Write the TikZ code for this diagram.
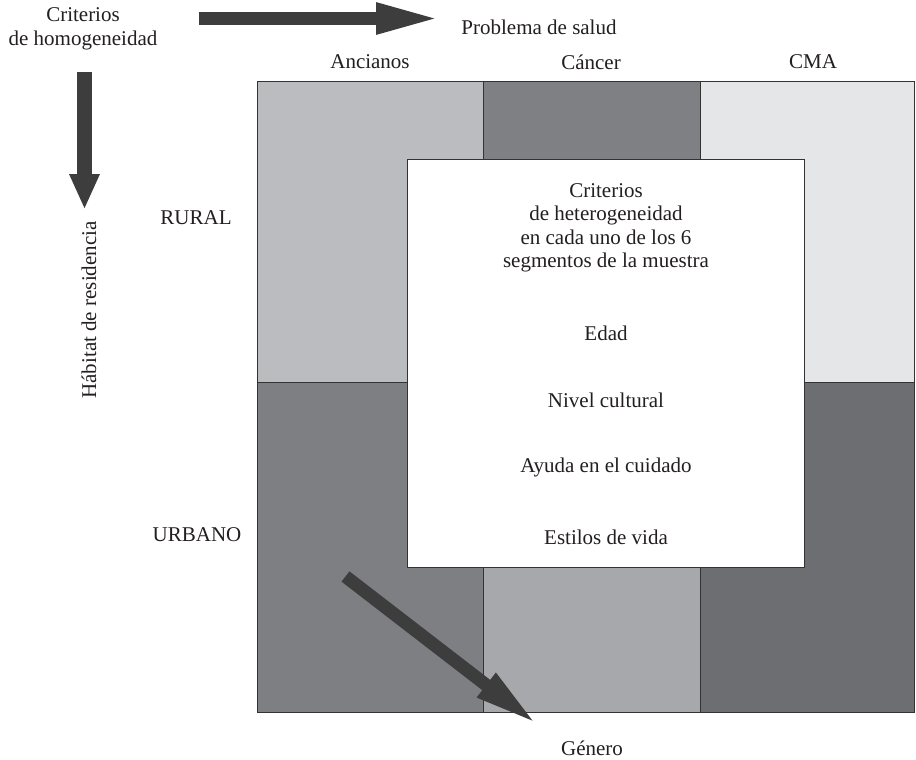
\documentclass[tikz,border=0pt]{standalone}
\usepackage{fontspec}
\setmainfont{Liberation Serif}
\usetikzlibrary{arrows.meta}
\definecolor{cA}{HTML}{BBBCBF}
\definecolor{cB}{HTML}{7F8084}
\definecolor{cC}{HTML}{E5E6E8}
\definecolor{cD}{HTML}{7E7F83}
\definecolor{cE}{HTML}{A7A8AB}
\definecolor{cF}{HTML}{6D6E72}
\definecolor{arr}{HTML}{3D3D3D}
\definecolor{ink}{HTML}{231F20}
\definecolor{edge}{HTML}{333333}
\begin{document}
\begin{tikzpicture}[x=1pt,y=-1pt,
  every node/.style={text=ink,font=\fontsize{21}{23.5}\selectfont},
  cell/.style={draw=edge,line width=1pt,inner sep=0pt,outer sep=0pt,anchor=north west},
  lbl/.style={inner sep=0pt,align=center},
  bigarrow/.style={draw=arr,line width=#1,line cap=butt}]
\useasboundingbox[fill=white] (0,0) rectangle (916,760);
% cells
\node[cell,fill=cA,minimum width=226pt,minimum height=300pt] (r1) at (257,82) {};
\node[cell,fill=cB,minimum width=217pt,minimum height=300pt] (r2) at (483,82) {};
\node[cell,fill=cC,minimum width=214pt,minimum height=300pt] (r3) at (700,82) {};
\node[cell,fill=cD,minimum width=226pt,minimum height=330pt] (u1) at (257,382) {};
\node[cell,fill=cE,minimum width=217pt,minimum height=330pt] (u2) at (483,382) {};
\node[cell,fill=cF,minimum width=214pt,minimum height=330pt] (u3) at (700,382) {};
% inner white box
\node[cell,fill=white,minimum width=397pt,minimum height=408pt] (box) at (407,159) {};
\node[lbl] (t1) at (606,228) {Criterios\\de heterogeneidad\\en cada uno de los 6\\segmentos de la muestra};
\node[lbl] (t2) at (606,333) {Edad};
\node[lbl] (t3) at (606,400) {Nivel cultural};
\node[lbl] (t4) at (606,467) {Ayuda en el cuidado};
\node[lbl] (t5) at (606,537) {Estilos de vida};
% labels
\node[lbl] (hom) at (83,29) {Criterios\\de homogeneidad};
\node[lbl] (prob) at (539,27) {Problema de salud};
\node[lbl] (anc) at (370,62) {Ancianos};
\node[lbl] (can) at (591,62) {Cáncer};
\node[lbl] (cma) at (813,62) {CMA};
\node[lbl] (rural) at (196,218) {RURAL};
\node[lbl] (urb) at (197,535) {URBANO};
\node[lbl,rotate=90] (hab) at (89,310) {Hábitat de residencia};
\node[lbl] (gen) at (592,748) {Género};
% arrows
\coordinate (h0) at (199,18.5);
\coordinate (h1) at (442,18.5);
\coordinate (v0) at (84.5,72);
\coordinate (v1) at (84.5,209.5);
\coordinate (d0) at (345.5,576.5);
\coordinate (d1) at (538.5,725.3);
\draw[bigarrow=13.5pt,-{Triangle[length=66pt,width=28pt]}] (h0) -- (h1);
\draw[bigarrow=15pt,-{Triangle[length=35.5pt,width=28pt]}] (v0) -- (v1);
\draw[bigarrow=13pt,-{Triangle[length=66pt,width=27pt]}] (d0) -- (d1);
\end{tikzpicture}
\end{document}
